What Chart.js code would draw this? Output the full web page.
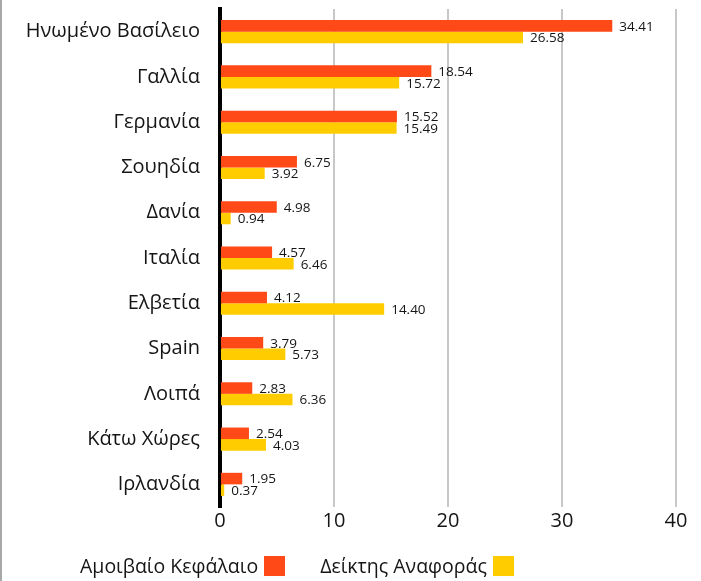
<!DOCTYPE html>
<html>
<head>
<meta charset="utf-8">
<script src="https://cdn.jsdelivr.net/npm/chart.js@4/dist/chart.umd.min.js"></script>
<style>
    body { margin: 0; background: #fff; }
    #wrap { position: relative; width: 701px; height: 581px; }
    #wrap:before { content: ""; position: absolute; left: 0; top: 0; bottom: 0; width: 2px; background: #a8a8a8; }
    #legend { position: absolute; left: 80px; top: 552px; display: flex; font-family: 'Open Sans', sans-serif; font-size: 19.5px; color: #151515; }
    #legend .item { display: flex; align-items: center; margin-right: 35px; }
    #legend .box { width: 21px; height: 20px; margin-left: 6px; }
</style>
</head>
<body>
<div id="wrap">
    <canvas id="chart" width="701" height="581"></canvas>
    <div id="legend"></div>
</div>
<script>
const countries = ["Ηνωμένο Βασίλειο", "Γαλλία", "Γερμανία", "Σουηδία", "Δανία", "Ιταλία", "Ελβετία", "Spain", "Λοιπά", "Κάτω Χώρες", "Ιρλανδία"];
const fundValues = [34.41, 18.54, 15.52, 6.75, 4.98, 4.57, 4.12, 3.79, 2.83, 2.54, 1.95];
const indexValues = [26.58, 15.72, 15.49, 3.92, 0.94, 6.46, 14.40, 5.73, 6.36, 4.03, 0.37];
const seriesNames = ["Αμοιβαίο Κεφάλαιο", "Δείκτης Αναφοράς"];
const seriesColors = ["#ff4916", "#ffcc00"];
const xTicks = [0, 10, 20, 30, 40];

const fontFamily = "'Open Sans', sans-serif";
const textColor = "#151515";

// value labels at the end of each bar
const valueLabels = {
    id: "valueLabels",
    afterDatasetsDraw: function (chart) {
        let ctx = chart.ctx;
        ctx.save();
        ctx.font = "13.5px " + fontFamily;
        ctx.fillStyle = textColor;
        ctx.textAlign = "left";
        ctx.textBaseline = "middle";
        chart.data.datasets.forEach(function (dataset, i) {
            chart.getDatasetMeta(i).data.forEach(function (bar, j) {
                ctx.fillText(dataset.data[j].toFixed(2), bar.x + 7, bar.y + 1);
            });
        });
        ctx.restore();
    }
};

let chart = new Chart(document.getElementById("chart"), {
    type: "bar",
    data: {
        labels: countries,
        datasets: [
            { label: seriesNames[0], data: fundValues, backgroundColor: seriesColors[0] },
            { label: seriesNames[1], data: indexValues, backgroundColor: seriesColors[1] }
        ]
    },
    options: {
        indexAxis: "y",
        responsive: false,
        animation: false,
        categoryPercentage: 0.51,
        barPercentage: 1.0,
        layout: { padding: { top: 9, right: 25, bottom: 44, left: 0 } },
        plugins: {
            legend: { display: false },
            tooltip: { enabled: false }
        },
        scales: {
            x: {
                min: 0,
                max: 40,
                afterBuildTicks: function (scale) {
                    scale.ticks = xTicks.map(v => ({ value: v }));
                },
                afterFit: function (scale) { scale.height = 30; },
                grid: { color: "#c8c8c8", lineWidth: 2, drawTicks: false },
                border: { display: false },
                ticks: { color: textColor, padding: 2, font: { size: 20, family: fontFamily } }
            },
            y: {
                afterFit: function (scale) {
                    scale.width = 220;
                    scale.paddingTop = 0;
                    scale.paddingBottom = 0;
                },
                grid: { display: false, drawTicks: false },
                border: { display: true, color: "#000", width: 4 },
                ticks: { color: textColor, padding: 20, font: { size: 20, family: fontFamily } }
            }
        }
    },
    plugins: [valueLabels]
});

// legend: text first, colour box after it
let legendEl = document.getElementById("legend");
chart.data.datasets.forEach(function (ds) {
    let item = document.createElement("div");
    item.className = "item";
    let txt = document.createElement("span");
    txt.textContent = ds.label;
    let box = document.createElement("span");
    box.className = "box";
    box.style.background = ds.backgroundColor;
    item.appendChild(txt);
    item.appendChild(box);
    legendEl.appendChild(item);
});
</script>
</body>
</html>
